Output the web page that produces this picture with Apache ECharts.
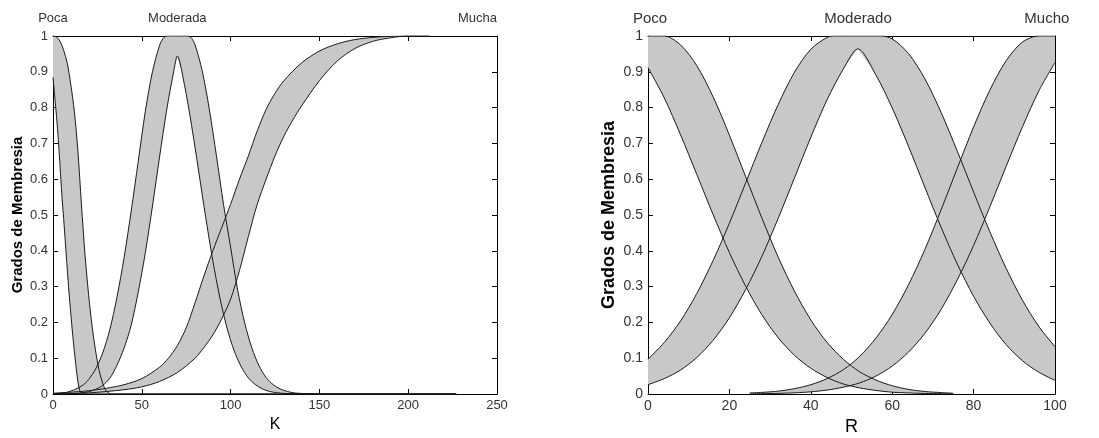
<!DOCTYPE html>
<html>
<head>
<meta charset="utf-8">
<script src="https://cdn.jsdelivr.net/npm/echarts@6/dist/echarts.min.js"></script>
<style>html,body{margin:0;padding:0;background:#fff;}#c{width:1099px;height:438px;}</style>
</head>
<body>
<div id="c"></div>
<script>
// ---------- Left panel (K) ----------
const kTerms = ['Poca', 'Moderada', 'Mucha'];
const kTermX = [0, 70, 239];
const kTicksMax = 250, kTickStep = 50;

const kPocaUpX = [0,2,4,6,8,10,12,14,16,18,20,22,24,26,28,30,32,34,227];
const kPocaUpY = [1,0.997,0.985,0.96,0.925,0.865,0.79,0.68,0.53,0.39,0.28,0.19,0.12,0.065,0.03,0.008,0.001,0,0];
const kPocaLoX = [0,1,2,3,4,5,6,7,8,9,10,11,12,13,14,15,16,17,227];
const kPocaLoY = [0.885,0.83,0.775,0.71,0.635,0.555,0.49,0.42,0.35,0.285,0.225,0.17,0.12,0.075,0.035,0.01,0.002,0,0];

const kModUpX = [0,8,16,20,24,28,32,36,40,44,48,52,56,60,62,64,66,74,76,78,80,84,88,92,96,100,104,108,112,116,120,124,128,132,136,140,150,227];
const kModUpY = [0.001,0.005,0.022,0.04,0.07,0.115,0.18,0.27,0.38,0.51,0.65,0.79,0.9,0.974,0.993,1,1,1,1,0.994,0.975,0.903,0.796,0.666,0.53,0.41,0.29,0.197,0.128,0.079,0.046,0.026,0.014,0.007,0.003,0.0015,0,0];
const kModLoX = [0,8,12,16,20,24,28,32,36,40,44,48,52,56,60,64,68,70,70,74,78,82,86,90,94,98,102,106,110,114,118,122,126,130,134,145,227];
const kModLoY = [0,0.0006,0.0014,0.003,0.0064,0.013,0.024,0.044,0.08,0.128,0.192,0.285,0.395,0.525,0.662,0.793,0.902,0.944,0.944,0.864,0.751,0.623,0.493,0.372,0.268,0.184,0.121,0.076,0.045,0.026,0.014,0.007,0.0036,0.0017,0.0008,0,0];

const kMuchaUpX = [0,10,20,30,40,50,60,65,70,75,80,85,90,95,100,105,110,115,120,125,130,140,150,160,170,180,190,200,212];
const kMuchaUpY = [0.002,0.005,0.009,0.016,0.026,0.043,0.075,0.1,0.135,0.185,0.255,0.33,0.4,0.465,0.53,0.6,0.665,0.735,0.795,0.84,0.875,0.925,0.958,0.978,0.99,0.996,0.999,1,1];
const kMuchaLoX = [0,20,40,50,60,70,80,85,90,95,100,105,110,115,120,125,130,135,140,150,160,170,180,190,200,212];
const kMuchaLoY = [0,0.003,0.012,0.02,0.035,0.06,0.1,0.13,0.165,0.21,0.265,0.345,0.44,0.53,0.6,0.665,0.72,0.765,0.805,0.875,0.93,0.965,0.985,0.995,1,1];

// ---------- Right panel (R) ----------
const rTerms = ['Poco', 'Moderado', 'Mucho'];
const rTermX = [0.5, 51.6, 98];
const rTicksMax = 100, rTickStep = 20;

const rPocoUpX = [0,2,4,8,12,16,20,24,28,32,36,40,44,48,52,56,60,64,68,72,75];
const rPocoUpY = [1,1,1,0.975,0.917,0.83,0.723,0.607,0.491,0.382,0.287,0.207,0.144,0.097,0.062,0.039,0.023,0.013,0.007,0.004,0.002];
const rPocoLoX = [0,4,8,12,16,20,24,28,32,36,40,44,48,52,56,60,64,68,72,75];
const rPocoLoY = [0.912,0.827,0.724,0.613,0.501,0.395,0.301,0.221,0.157,0.108,0.072,0.046,0.028,0.017,0.01,0.005,0.003,0.0015,0.0008,0.0005];

const rModUpX = [0,4,8,12,16,20,24,28,32,36,40,44,45.8,57.3,60,64,68,72,76,80,84,88,92,96,100];
const rModUpY = [0.097,0.144,0.204,0.281,0.373,0.477,0.59,0.703,0.809,0.899,0.963,0.996,1,1,0.992,0.951,0.881,0.787,0.678,0.564,0.453,0.351,0.262,0.189,0.132];
const rModLoX = [0,4,8,12,16,20,24,28,32,36,40,44,48,51.55,51.55,56,60,64,68,72,76,80,84,88,92,96,100];
const rModLoY = [0.026,0.043,0.067,0.102,0.15,0.213,0.292,0.385,0.491,0.604,0.717,0.822,0.908,0.964,0.964,0.891,0.799,0.692,0.578,0.466,0.363,0.273,0.198,0.138,0.093,0.061,0.038];

const rMuchoUpX = [25,28,32,36,40,44,48,52,56,60,64,68,72,76,80,84,88,92,96,98,100];
const rMuchoUpY = [0.003,0.0045,0.008,0.015,0.026,0.043,0.068,0.105,0.156,0.222,0.305,0.403,0.514,0.631,0.746,0.849,0.931,0.983,1,1,1];
const rMuchoLoX = [25,28,32,36,40,44,48,52,56,60,64,68,72,76,80,84,88,92,96,100];
const rMuchoLoY = [0.0005,0.0009,0.0017,0.0033,0.0061,0.011,0.019,0.031,0.05,0.078,0.117,0.169,0.236,0.319,0.415,0.523,0.636,0.746,0.846,0.926];

const yLabelText = 'Grados de Membresia';

// ---------- helpers ----------
const FONT = '"Liberation Sans", Arial, sans-serif';
const SMOOTH = 0.3;
const FILL = '#c8c8c8';
const LINE = '#1a1a1a';

function pairs(xs, ys) { return xs.map((x, i) => [x, ys[i]]); }

function bandFill(ai, up, lo) {
  return {
    type: 'custom', coordinateSystem: 'cartesian2d',
    xAxisIndex: ai, yAxisIndex: ai, z: 2, silent: true, clip: true,
    data: [[0, 0]], encode: { x: 0, y: 1 },
    renderItem: function (params, api) {
      const pts = [];
      const u = up.map(p => api.coord(p));
      const l = lo.map(p => api.coord(p)).reverse();
      pts.push(u[0]);
      u.forEach(p => pts.push(p));
      pts.push(u[u.length - 1]);
      pts.push(l[0]);
      l.forEach(p => pts.push(p));
      pts.push(l[l.length - 1]);
      return { type: 'polygon', shape: { points: pts, smooth: SMOOTH }, style: { fill: FILL, stroke: null } };
    }
  };
}

function outline(ai, data) {
  return {
    type: 'line', xAxisIndex: ai, yAxisIndex: ai, z: 3, silent: true,
    data: data, showSymbol: false, symbol: 'none', smooth: SMOOTH,
    lineStyle: { color: LINE, width: 1 }, animation: false
  };
}

function terms(ai, names, xs, fontSize, dist) {
  return {
    type: 'scatter', xAxisIndex: ai, yAxisIndex: ai, z: 4, silent: true, clip: false,
    symbol: 'circle', symbolSize: 1, itemStyle: { color: 'rgba(0,0,0,0)' },
    data: names.map((n, i) => ({ name: n, value: [xs[i], 1] })),
    label: { show: true, position: 'top', distance: dist, formatter: '{b}',
      color: '#333', fontSize: fontSize, fontFamily: FONT, opacity: 1 },
    labelLayout: { hideOverlap: false }
  };
}

function xAxes(gi, max, step, name, nameSize, nameGap, labSize) {
  const common = {
    gridIndex: gi, type: 'value', min: 0, max: max, interval: step,
    axisLine: { show: true, onZero: false, lineStyle: { color: '#000', width: 1 } },
    axisTick: { show: true, inside: true, length: 5, lineStyle: { color: '#000', width: 1 } },
    splitLine: { show: false }, minorTick: { show: false }
  };
  return [
    Object.assign({}, common, {
      position: 'bottom',
      axisLabel: { show: true, margin: 5, color: '#333', fontSize: labSize, fontFamily: FONT },
      name: name, nameLocation: 'middle', nameGap: nameGap,
      nameTextStyle: { color: '#000', fontSize: nameSize, fontFamily: FONT }
    }),
    Object.assign({}, common, { position: 'top', axisLabel: { show: false } })
  ];
}

function yAxes(gi, nameSize, nameGap, labSize) {
  const common = {
    gridIndex: gi, type: 'value', min: 0, max: 1, interval: 0.1,
    axisLine: { show: true, onZero: false, lineStyle: { color: '#000', width: 1 } },
    axisTick: { show: true, inside: true, length: 5, lineStyle: { color: '#000', width: 1 } },
    splitLine: { show: false }, minorTick: { show: false }
  };
  return [
    Object.assign({}, common, {
      position: 'left',
      axisLabel: { show: true, margin: 5, color: '#333', fontSize: labSize, fontFamily: FONT },
      name: yLabelText, nameLocation: 'middle', nameGap: nameGap,
      nameTextStyle: { color: '#000', fontSize: nameSize, fontWeight: 'bold', fontFamily: FONT }
    }),
    Object.assign({}, common, { position: 'right', axisLabel: { show: false } })
  ];
}

// axis indices: 0 = left bottom/left, 1 = left top/right, 2 = right bottom/left, 3 = right top/right
const lx = xAxes(0, kTicksMax, kTickStep, 'K', 16, 20, 13);
const ly = yAxes(0, 15, 28, 13);
const rx = xAxes(1, rTicksMax, rTickStep, 'R', 18, 22, 14);
const ry = yAxes(1, 18, 30, 14);

const L = 0, R = 2;
const bands = [
  [L, pairs(kPocaUpX, kPocaUpY), pairs(kPocaLoX, kPocaLoY)],
  [L, pairs(kModUpX, kModUpY), pairs(kModLoX, kModLoY)],
  [L, pairs(kMuchaUpX, kMuchaUpY), pairs(kMuchaLoX, kMuchaLoY)],
  [R, pairs(rPocoUpX, rPocoUpY), pairs(rPocoLoX, rPocoLoY)],
  [R, pairs(rModUpX, rModUpY), pairs(rModLoX, rModLoY)],
  [R, pairs(rMuchoUpX, rMuchoUpY), pairs(rMuchoLoX, rMuchoLoY)]
];

const series = [];
bands.forEach(b => series.push(bandFill(b[0], b[1], b[2])));
bands.forEach(b => { series.push(outline(b[0], b[1])); series.push(outline(b[0], b[2])); });
series.push(terms(L, kTerms, kTermX, 13, 11));
series.push(terms(R, rTerms, rTermX, 15, 9));

const option = {
  animation: false,
  backgroundColor: '#fff',
  grid: [
    { left: 53, right: 602, top: 36, bottom: 44, containLabel: false, outerBoundsMode: 'none' },
    { left: 648, right: 44, top: 36, bottom: 44, containLabel: false, outerBoundsMode: 'none' }
  ],
  xAxis: [lx[0], lx[1], rx[0], rx[1]],
  yAxis: [ly[0], ly[1], ry[0], ry[1]],
  series: series
};

const chart = echarts.init(document.getElementById('c'), null, { renderer: 'canvas' });
chart.setOption(option);
</script>
</body>
</html>
